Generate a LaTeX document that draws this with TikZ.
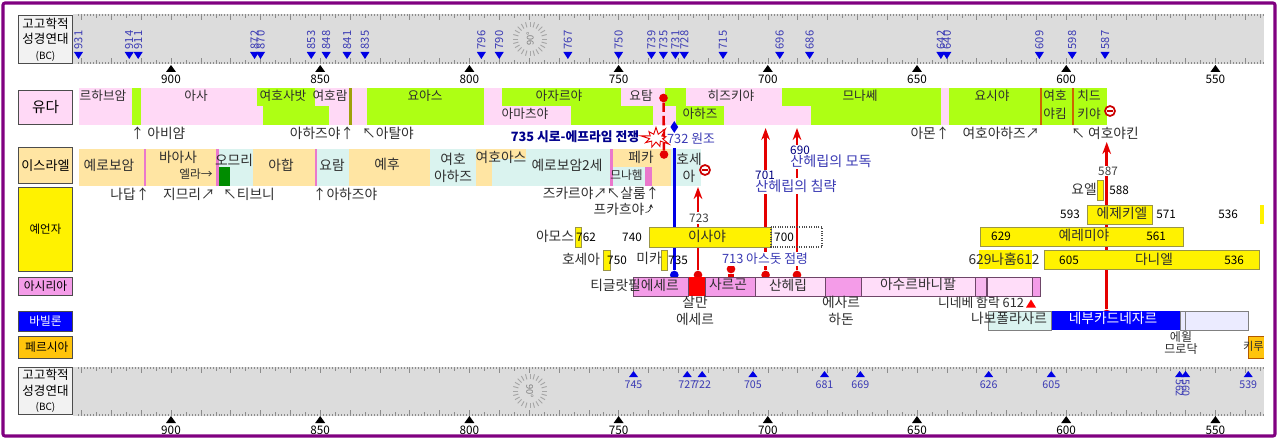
\documentclass[tikz,border=0pt]{standalone}
\usepackage{fontspec}
\setmainfont{Noto Sans CJK KR}
\usepackage{xcolor}
\usetikzlibrary{arrows.meta, shapes.symbols, shapes.geometric, calc}
\definecolor{rulegray}{HTML}{DCDCDC}
\definecolor{tickgray}{HTML}{8C8C8C}
\definecolor{framepurple}{HTML}{800080}
\definecolor{jpink}{HTML}{FFD9F6}
\definecolor{jgreen}{HTML}{AEFF14}
\definecolor{iyellow}{HTML}{FFE5A3}
\definecolor{iteal}{HTML}{DAF3EF}
\definecolor{mpink}{HTML}{F49CE8}
\definecolor{lpink}{HTML}{FFDDF9}
\definecolor{linkpink}{HTML}{EA78CC}
\definecolor{noteblue}{HTML}{3A3AB4}
\definecolor{textdark}{HTML}{2E2E2E}
\definecolor{persiagold}{HTML}{FFC40C}
\newcommand{\yrx}[1]{171+(900-#1)*2.984}

\begin{document}
\begin{tikzpicture}[
    x=0.75pt, y=-0.75pt,
    lb/.style={font=\fontsize{10.3}{12.6}\selectfont, text=textdark, inner sep=0pt, align=center},
    lbj/.style={font=\fontsize{9.5}{12}\selectfont, text=textdark, inner sep=0pt, align=center},
    lbs/.style={font=\fontsize{8.8}{10}\selectfont, text=textdark, inner sep=0pt, align=center},
    num/.style={font=\fontsize{8.8}{10}\selectfont, text=black, inner sep=0pt},
    note/.style={font=\fontsize{9.6}{11}\selectfont, text=noteblue, inner sep=0pt, align=center},
    rowbox/.style={rectangle, draw=black!70, line width=0.7pt, minimum width=41pt, inner sep=0pt, align=center},
    pbar/.style={fill=yellow, draw=black!45!yellow, line width=0.6pt},
    abar/.style={draw=black!55!mpink, line width=0.6pt},
    nbar/.style={draw=gray, line width=0.6pt},
    redline/.style={draw=red!90!black, line width=1.9pt},
    arr/.style={-{Stealth[length=9pt,width=6.5pt]}},
    dome/.style={circle, fill=red!90!black, minimum size=6.5pt, inner sep=0pt},
    theta/.style={circle, draw=red!80!black, line width=1.3pt, fill=white, minimum size=7.5pt, inner sep=0pt},
]
\useasboundingbox (0,0) rectangle (1280,442);

% Frame
\draw[framepurple, line width=2.3pt, rounded corners=1.5pt] (3,3) rectangle (1275,436);

% Rulers
\foreach \ya/\yb in {14/64, 367/416}{
  \fill[rulegray] (73,\ya) rectangle (1264,\yb);
  \foreach \yr in {534,...,931}{
    \pgfmathsetmacro\px{\yrx{\yr}}
    \pgfmathtruncatemacro\five{mod(\yr,5)}
    \pgfmathtruncatemacro\ten{mod(\yr,10)}
    \pgfmathsetmacro\tl{\ten==0 ? 6 : (\five==0 ? 4 : 2)}
    \draw[tickgray, line width=0.35pt] (\px,\ya) -- ++(0,\tl);
    \draw[tickgray, line width=0.35pt] (\px,\yb) -- ++(0,-\tl);
  }
}
\foreach \cy/\rot/\nm in {39/90/stampTop, 391/-90/stampBot}{
  \foreach \ang in {0,15,...,345}
    \draw[gray!70, line width=0.7pt] ($(530,\cy)+(\ang:9pt)$) -- ($(530,\cy)+(\ang:13pt)$);
  \node[rotate=\rot, font=\fontsize{7}{8}\selectfont, text=gray, inner sep=0pt] (\nm) at (530,\cy) {90°};
}

% Year marks
\foreach \yr in {900,850,800,750,700,650,600,550}{
  \pgfmathsetmacro\px{\yrx{\yr}}
  \fill[black] (\px-5,72) -- (\px+5,72) -- (\px,65) -- cycle;
  \fill[black] (\px-5,423) -- (\px+5,423) -- (\px,416) -- cycle;
  \node[num] (topyr\yr) at (\px,79) {\yr};
  \node[num] (botyr\yr) at (\px,430) {\yr};
}
\foreach \yr in {931,914,911,872,870,853,848,841,835,796,790,767,750,739,735,731,728,715,696,686,642,640,609,598,587}{
  \pgfmathsetmacro\px{\yrx{\yr}}
  \fill[blue!90!black] (\px-4.5,52) -- (\px+4.5,52) -- (\px,59) -- cycle;
  \node[rotate=90, font=\fontsize{8.4}{10}\selectfont, text=noteblue, inner sep=0pt] (tp\yr) at (\px,40) {\yr};
}
\foreach \yr in {745,727,722,705,681,669,626,605,539}{
  \pgfmathsetmacro\px{\yrx{\yr}}
  \fill[blue!90!black] (\px-4.5,377) -- (\px+4.5,377) -- (\px,371) -- cycle;
  \node[font=\fontsize{8}{10}\selectfont, text=noteblue, inner sep=0pt] (bt\yr) at (\px,385) {\yr};
}
\foreach \yr in {562,560}{
  \pgfmathsetmacro\px{\yrx{\yr}}
  \fill[blue!90!black] (\px-4.5,377) -- (\px+4.5,377) -- (\px,371) -- cycle;
  \node[rotate=-90, font=\fontsize{8}{10}\selectfont, text=noteblue, inner sep=0pt] (bt\yr) at (\px,388) {\yr};
}

% Row heads
\node[rowbox, fill=gray!10, minimum height=35.5pt, font=\fontsize{9.4}{11.5}\selectfont] (headTop) at (45.5,39.5) {고고학적\\성경연대\\{\fontsize{7.5}{11}\selectfont (BC)}};
\node[rowbox, fill=jpink, minimum height=26pt, font=\fontsize{11}{12}\selectfont] (headJudah) at (45.5,107.5) {유다};
\node[rowbox, fill=iyellow, minimum height=27.5pt, font=\fontsize{9.8}{10}\selectfont] (headIsrael) at (45.5,165.5) {이스라엘};
\node[rowbox, fill=yellow, minimum height=63.5pt, font=\fontsize{8.6}{10}\selectfont] (headProphet) at (45.5,229.5) {예언자};
\node[rowbox, fill=mpink, minimum height=14pt, font=\fontsize{8.8}{10}\selectfont] (headAssyria) at (45.5,286.5) {아시리아};
\node[rowbox, fill=blue, text=white, minimum height=15pt, font=\fontsize{8.8}{10}\selectfont] (headBabylon) at (45.5,321) {바빌론};
\node[rowbox, fill=persiagold, minimum height=16.5pt, font=\fontsize{8.8}{10}\selectfont] (headPersia) at (45.5,347) {\hspace{2pt}페르시아};
\node[rowbox, fill=gray!10, minimum height=35.5pt, font=\fontsize{9.4}{11.5}\selectfont] (headBot) at (45.5,391) {고고학적\\성경연대\\{\fontsize{7.5}{11}\selectfont (BC)}};

% Judah bands
\fill[jpink] (79,88) rectangle (1107,125);
\foreach \xa/\ya/\xb/\yb in {132/88/141/125, 257/88/315/106, 263/106/329/125, 367/88/484/125,
    502/88/621/106, 571/106/653/125, 665/88/686/106, 676/106/724/125, 782/88/941/106,
    811/106/941/125, 949/88/1107/125}
  \fill[jgreen] (\xa,\ya) rectangle (\xb,\yb);
\fill[olive!70!jgreen] (349,88) rectangle (351.5,125);
\foreach \px in {1041,1073}
  \fill[orange!80!black] (\px-0.7,88) rectangle (\px+0.7,125);

% Israel bands
\fill[iteal] (79,149) rectangle (701,186);
\foreach \xa/\ya/\xb/\yb in {79/149/144/186, 146/149/216/186, 253/149/315/186, 349/149/430/186,
    476/149/526/159, 476/159/492/186, 613/149/671/167, 651/167/671/186}
  \fill[iyellow] (\xa,\ya) rectangle (\xb,\yb);
\foreach \xa/\ya/\xb/\yb in {144/149/146/186, 216/149/218.5/186, 314.5/149/317/186, 610/149/612.7/186, 645/167/651.5/186}
  \fill[linkpink] (\xa,\ya) rectangle (\xb,\yb);
\fill[green!55!black] (219,167) rectangle (230,186);

% Event anchors
\coordinate (tipHez) at (765.6,128);
\coordinate (tipSen) at (797,128);
\coordinate (tipSam) at (698,187);
\coordinate (tipJer) at (1106.7,142);
\node[dome] (domeHez) at (765.6,275) {};
\node[dome] (domeSen) at (797,275) {};
\node[dome] (domeSam) at (698,275) {};
\node[dome] (domeJer) at (1106.7,314) {};
\node[dome] (domeSar) at (731,269) {};
\node[dome, fill=blue!90!black] (domeIsa) at (674.3,275) {};
\node[dome] (domeWarA) at (663.5,98) {};
\node[dome] (domeWarB) at (664,154.5) {};
\node[diamond, fill=blue!90!black, minimum width=6pt, minimum height=9pt, inner sep=0pt] (gemCoup) at (674.3,127) {};
\coordinate (lineCoup) at (674.3,148);

% Connections
\draw[redline, arr] (domeHez) -- (tipHez);
\draw[redline, arr] (domeSen) -- (tipSen);
\draw[redline, arr] (domeSam) -- (tipSam);
\draw[redline, arr] (domeJer) -- (tipJer);
\draw[redline, line width=4.5pt] (domeSar) -- ++(0,8);
\draw[draw=blue!90!black, line width=1.9pt] (domeIsa) -- (lineCoup);
\draw[redline, dash pattern=on 7pt off 3pt] (domeWarA) -- (domeWarB);

% War burst
\node[starburst, starburst points=9, starburst point height=7pt, draw=red!90!black, fill=white,
      line width=0.7pt, minimum width=24pt, minimum height=20pt, inner sep=0pt] (warBurst) at (656,138) {};

% Prophet bars
\draw[pbar, draw=none] (979,250) rectangle (1031.7,269);
\draw[pbar] (1044,250) rectangle (1259,269);
\draw[pbar] (649,227) rectangle (771,247);
\draw[draw=black!70, line width=0.8pt, densely dotted] (771,227) rectangle (822,247);
\draw[pbar, line width=0.4pt] (575,227) rectangle (581.5,247);
\draw[pbar, line width=0.4pt] (603.3,250) rectangle (610,270);
\draw[pbar, line width=0.4pt] (661.3,250) rectangle (667,270);
\draw[pbar, line width=0.4pt] (1097.7,180) rectangle (1103,200);
\draw[pbar] (1087,205) rectangle (1152,224);
\draw[pbar] (980.7,227) rectangle (1183,246.7);
\draw[pbar, draw=none] (1259.5,205) rectangle (1264,224);

% Assyria bars
\foreach \xa/\xb/\col in {633.3/688.7/mpink, 705/755.7/mpink, 755.7/825.7/lpink, 825.7/861.3/mpink,
    861.3/975.7/lpink, 975.7/986/mpink!60!lpink, 987.3/1032.7/lpink, 1032.7/1040.7/mpink}
  \draw[abar, fill=\col] (\xa,277) rectangle (\xb,296);
\fill[red] (688.7,277) rectangle (705,296);

% Babylon and Persia bars
\draw[nbar, fill=iteal] (988.7,311) rectangle (1051.7,330);
\fill[blue] (1051.7,311) rectangle (1180,330);
\draw[nbar, fill=blue!8] (1180,311) rectangle (1185,330);
\draw[nbar, fill=blue!8] (1185,311) rectangle (1248.5,330);
\draw[draw=orange!70!black, fill=persiagold, line width=0.3pt] (1264,336.5) -- (1248,336.5) -- (1248,358) -- (1264,358);

% Judah kings
\node[lbj] (rehoboam) at (103,96) {르하브암};
\node[lbj] (asa) at (196,96) {아사};
\node[lbj] (jehoshaphat) at (283,96) {여호사밧};
\node[lbj] (jehoram) at (330,96) {여호람};
\node[lbj] (joash) at (425,96) {요아스};
\node[lbj] (azariah) at (559,96) {아자르야};
\node[lbj] (amaziah) at (525,114) {아마츠야};
\node[lbj] (jotham) at (641,96) {요탐};
\node[lbj] (ahaz) at (700,114) {아하즈};
\node[lbj] (hezekiah) at (731,96) {히즈키야};
\node[lbj] (manasseh) at (860,96) {므나쎄};
\node[lbj] (josiah) at (992,96) {요시야};
\node[lbj] (jehoiakimA) at (1055,96) {여호};
\node[lbj] (jehoiakimB) at (1055,114) {야킴};
\node[lbj] (zedekiahA) at (1089,96) {치드};
\node[lbj] (zedekiahB) at (1089,114) {키야};
\node[lb] (abijam) at (158,133) {↑ 아비얌};
\node[lb] (ahaziahJ) at (322,133) {아하즈야↑};
\node[lb] (athaliah) at (388,133) {↖아탈야};
\node[lb] (amon) at (930,133) {아몬↑};
\node[lb] (jehoahazJ) at (1001,133) {여호아하즈↗};
\node[lb] (jehoiachin) at (1105,133) {↖ 여호야킨};

% Israel kings
\node[lb] (jeroboam) at (109,165) {예로보암};
\node[lb] (baasha) at (178,157) {바아사};
\node[lbs] (elah) at (196,174) {엘라→};
\node[lb] (omri) at (234,160) {오므리};
\node[lb] (ahab) at (281,165) {아합};
\node[lb] (joram) at (332,165) {요람};
\node[lb] (jehu) at (387,164) {예후};
\node[lb] (jehoahazI) at (453,167.5) {여호\\아하즈};
\node[lb] (jehoashI) at (501,157) {여호아스};
\node[lb] (jeroboamII) at (567,165) {예로보암2세};
\node[lb] (pekah) at (641,157) {페카};
\node[lbs] (menahem) at (626.5,175) {므나헴};
\node[lb] (hoshea) at (689,167.5) {호세\\아};
\node[lb] (nadab) at (130,194) {나답↑};
\node[lb] (zimri) at (189,194) {지므리↗};
\node[lb] (tibni) at (249,194) {↖티브니};
\node[lb] (ahaziahI) at (345,194) {↑아하즈야};
\node[lb] (zechariah) at (575,193) {즈카르야↗};
\node[lb] (shallum) at (633,193) {↖살룸↑};
\node[lb] (pekahiah) at (619,209) {프카흐야};
\coordinate (hookBeg) at (645.5,212.5);
\coordinate (hookEnd) at (651,204);
\draw[textdark, line width=0.5pt, -{Stealth[length=3pt,width=3pt]}] (hookBeg) to[out=0, in=-90] (hookEnd);

% Events
\node[font=\bfseries\fontsize{9.6}{10}\selectfont, text=blue!55!black, inner sep=0pt] (warLabel) at (575,137) {735 시로-에프라임 전쟁};
\node[note] (coupLabel) at (691,139) {732 원조};
\node[num, fill=white, inner ysep=1pt, text=black!75] (yr723) at (699,218) {723};
\node[note, fill=white, inner ysep=1pt, font=\fontsize{10.6}{11}\selectfont] (raidLabel) at (796,186) {산헤립의 침략};
\node[num, fill=white, inner sep=0.5pt, text=blue!50!black] (yr701) at (765,175) {701};
\node[note, fill=white, inner ysep=1pt, font=\fontsize{10.6}{11}\selectfont] (mockLabel) at (831,161) {산헤립의 모독};
\node[num, fill=white, inner sep=0.5pt, text=blue!50!black] (yr690) at (800,150) {690};
\node[note, fill=white, inner ysep=1pt] (ashdodLabel) at (765,259) {713 아스돗 점령};
\node[num, fill=white, inner sep=0.5pt, text=black!75] (yr587) at (1108,171) {587};
\node[lb, font=\fontsize{9.6}{11}\selectfont] (nineveh) at (981,303) {니네베 함락 612};
\fill[red] (1026,307.5) -- (1036,307.5) -- (1031,299.5) -- cycle;

% Prophets
\node[lb] (joel) at (1084,189) {요엘};
\node[num] (joelEnd) at (1119,190) {588};
\node[lb] (ezekiel) at (1122,213) {에제키엘};
\node[num] (ezekielBeg) at (1070,214) {593};
\node[num] (ezekielEnd) at (1166,214) {571};
\node[num] (persiaYr) at (1228,214) {536};
\node[lb] (jeremiah) at (1084,235) {예레미야};
\node[num] (jeremiahBeg) at (1001,236) {629};
\node[num] (jeremiahEnd) at (1156,236) {561};
\node[lb] (nahum) at (1004,259) {629나훔612};
\node[lb] (daniel) at (1154,259) {다니엘};
\node[num] (danielBeg) at (1069,260) {605};
\node[num] (danielEnd) at (1234,260) {536};
\node[lb] (isaiah) at (707,236) {이사야};
\node[num] (isaiahBeg) at (632,237) {740};
\node[num] (isaiahEnd) at (784,237) {700};
\node[lb] (amos) at (555,236) {아모스};
\node[num] (amosYr) at (586,237) {762};
\node[lb] (hoseaP) at (581,259) {호세아};
\node[num] (hoseaYr) at (617,260) {750};
\node[lb] (micah) at (649,258) {미카};
\node[num] (micahYr) at (678,260) {735};

% Empires
\node[lb] (tiglath) at (634.5,285) {티글랏필에세르};
\node[lb] (sargon) at (728,284) {사르곤};
\node[lb] (sennacherib) at (788,285) {산헤립};
\node[lb] (ashurbanipal) at (918,284) {아수르바니팔};
\node[lb] (shalmaneser) at (695,310.5) {살만\\에세르};
\node[lb] (esarhaddon) at (841,310.5) {에사르\\하돈};
\node[lb] (nabopolassar) at (1009,318) {나보폴라사르};
\node[lb, text=white] (nebuchadnezzar) at (1113,318) {네부카드네자르};
\node[lbs, font=\fontsize{9}{9}\selectfont] (evilmerodach) at (1181,343) {에윌\\므로닥};
\node[lbs, font=\fontsize{8.4}{10}\selectfont, anchor=east] (cyrus) at (1264,346) {키루};

% Deposed kings
\foreach \nm/\px/\py in {thetaJudah/1110/111, thetaIsrael/705/170}{
  \node[theta] (\nm) at (\px,\py) {};
  \draw[red!80!black, line width=1.1pt] ($(\nm)+(-2pt,0)$) -- ($(\nm)+(2pt,0)$);
}

\end{tikzpicture}
\end{document}
